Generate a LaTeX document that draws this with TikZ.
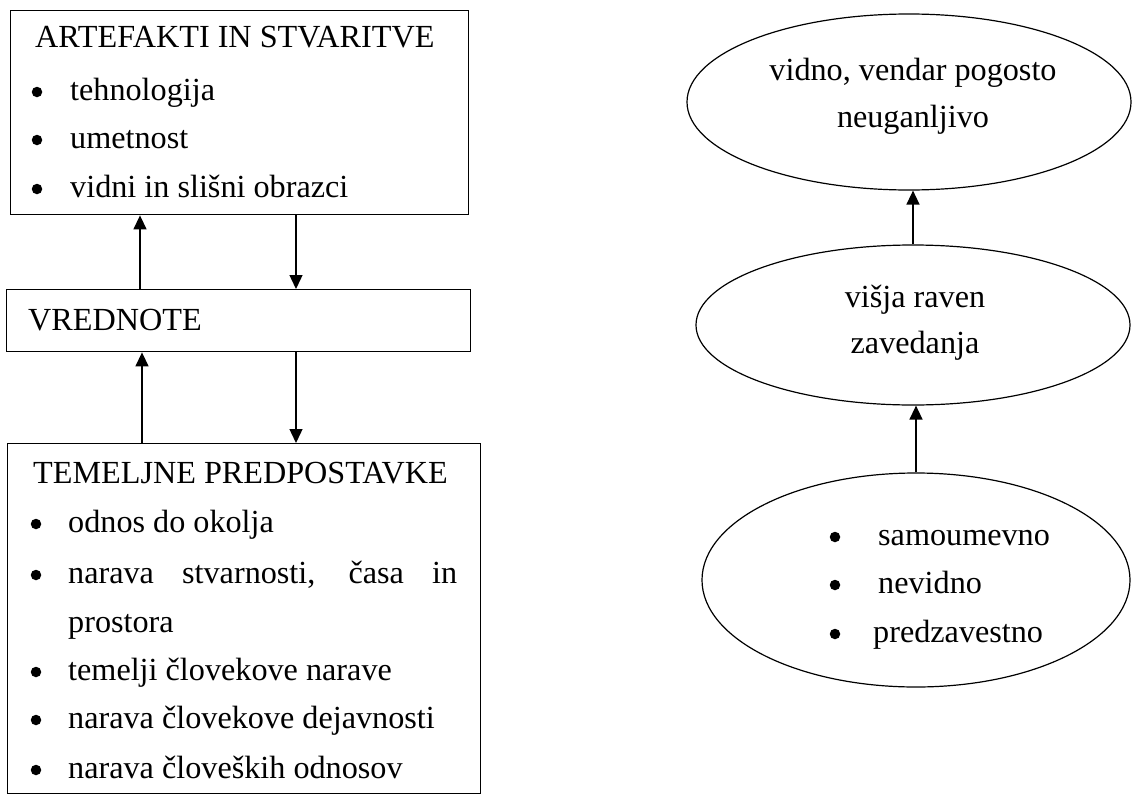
\documentclass[tikz,border=0pt]{standalone}
\usepackage{fontspec}
\setmainfont{Liberation Serif}
\usetikzlibrary{arrows.meta,shapes.geometric}
\begin{document}
\begin{tikzpicture}[x=1pt,y=-1pt,
  frame/.style={draw, line width=1.4pt, rectangle, inner sep=0pt, anchor=north west},
  oval/.style={draw, line width=1.2pt, ellipse, inner sep=0pt},
  txt/.style={inner sep=0pt, anchor=base west, font=\fontsize{32.2}{38}\selectfont},
  ctxt/.style={txt, anchor=base},
  dot/.style={circle, fill, inner sep=0pt, minimum size=10.5pt},
  flow/.style={line width=1.4pt, -{Triangle[length=14pt,width=13pt]}},
]
\useasboundingbox (0,0) rectangle (1132,795);

% left column: three framed boxes
\node[frame, minimum width=458pt, minimum height=204pt] (art) at (10,10) {};
\node[frame, minimum width=464pt, minimum height=62pt] (vred) at (6,289) {};
\node[frame, minimum width=473pt, minimum height=350pt] (temel) at (7,443) {};

% artefacts box text
\node[txt] (artT) at (35,47) {ARTEFAKTI IN STVARITVE};
\node[dot] (artB1) at (37,92) {};
\node[txt] (artI1) at (70,100) {tehnologija};
\node[dot] (artB2) at (37,140) {};
\node[txt] (artI2) at (70,148) {umetnost};
\node[dot] (artB3) at (37,189) {};
\node[txt] (artI3) at (70,197) {vidni in slišni obrazci};

% values box text
\node[txt] (vredT) at (28,330) {VREDNOTE};

% basic assumptions box text
\node[txt] (temT) at (33,483) {TEMELJNE PREDPOSTAVKE};
\node[dot] (temB1) at (36,524) {};
\node[txt] (temI1) at (68,532) {odnos do okolja};
\node[dot] (temB2) at (36,575) {};
\node[txt] (temI2) at (68,583) {\makebox[389pt][s]{narava stvarnosti, časa in}};
\node[txt] (temI2b) at (68,632) {prostora};
\node[dot] (temB3) at (36,672) {};
\node[txt] (temI3) at (68,680) {temelji človekove narave};
\node[dot] (temB4) at (36,720) {};
\node[txt] (temI4) at (68,728) {narava človekove dejavnosti};
\node[dot] (temB5) at (36,770) {};
\node[txt] (temI5) at (68,778) {narava človeških odnosov};

% connectors between the boxes
\draw[flow] ([xshift=134pt]vred.north west) -- ([xshift=130pt]art.south west);
\draw[flow] ([xshift=286pt]art.south west) -- ([xshift=290pt]vred.north west);
\draw[flow] ([xshift=135pt]temel.north west) -- ([xshift=136pt]vred.south west);
\draw[flow] ([xshift=290pt]vred.south west) -- ([xshift=289pt]temel.north west);

% right column: three ellipses
\node[oval, minimum width=444pt, minimum height=176pt] (top) at (909,102) {};
\node[oval, minimum width=434pt, minimum height=160pt] (mid) at (913,325) {};
\node[oval, minimum width=428pt, minimum height=214pt] (bot) at (916,580) {};

\node[ctxt] (topL1) at (913,80) {vidno, vendar pogosto};
\node[ctxt] (topL2) at (913,127) {neuganljivo};
\node[ctxt] (midL1) at (915,307) {višja raven};
\node[ctxt] (midL2) at (915,353) {zavedanja};

\node[dot] (botB1) at (835,537) {};
\node[txt] (botI1) at (878,545) {samoumevno};
\node[dot] (botB2) at (835,585) {};
\node[txt] (botI2) at (878,593) {nevidno};
\node[dot] (botB3) at (835,634) {};
\node[txt] (botI3) at (873,642) {predzavestno};

\draw[flow] (mid.north) -- (mid.north |- top.south);
\draw[flow] (bot.north) -- (bot.north |- mid.south);
\end{tikzpicture}
\end{document}
